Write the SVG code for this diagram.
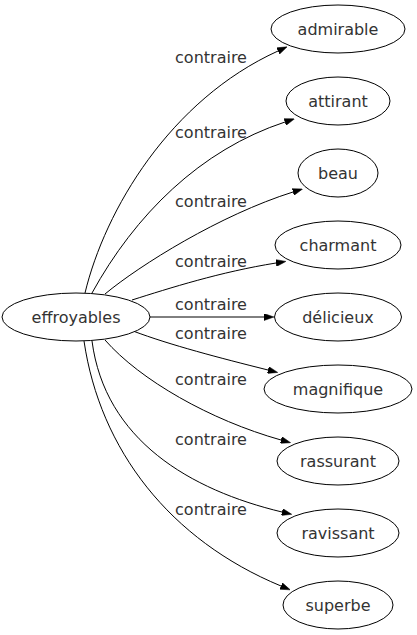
<svg xmlns="http://www.w3.org/2000/svg" width="417" height="635" viewBox="0 0 417 635">
<style>
.n ellipse{fill:#fff;stroke:#000;stroke-width:1}
text{font-family:"DejaVu Sans",sans-serif;font-size:16px;fill:#333;text-anchor:middle}
.e path{fill:none;stroke:#000;stroke-width:1;marker-end:url(#ah)}
</style>
<defs>
<marker id="ah" viewBox="0 0 10 7" refX="0" refY="3.5" markerWidth="10" markerHeight="7" markerUnits="userSpaceOnUse" orient="auto">
<path d="M0,0 L10,3.5 L0,7 z" fill="#000" stroke="#000" stroke-width="0.5"/>
</marker>
</defs>
<g id="edges" class="e">
<path d="M85,293 C105,210 170,100 278,51"/>
<path d="M92,293 C135,215 200,150 285,122"/>
<path d="M105,294 C140,265 220,215 293,192"/>
<path d="M132,300 C170,288 220,272 276,263"/>
<path d="M150,317 L264,317"/>
<path d="M133,331 C170,345 220,358 268,370"/>
<path d="M105,340 C140,380 210,420 281,440"/>
<path d="M92,341 C105,440 190,490 282,512"/>
<path d="M84,341 C100,450 170,540 281,586"/>
</g>
<g id="labels">
<text x="211" y="63">contraire</text>
<text x="211" y="138">contraire</text>
<text x="211" y="207">contraire</text>
<text x="211" y="267">contraire</text>
<text x="211" y="310">contraire</text>
<text x="211" y="339">contraire</text>
<text x="211" y="385">contraire</text>
<text x="211" y="445">contraire</text>
<text x="211" y="515">contraire</text>
</g>
<g id="effroyables" class="n"><ellipse cx="76" cy="317" rx="74" ry="24"/><text x="76" y="323">effroyables</text></g>
<g id="admirable" class="n"><ellipse cx="338" cy="29" rx="67" ry="24"/><text x="338" y="35">admirable</text></g>
<g id="attirant" class="n"><ellipse cx="338" cy="101" rx="52" ry="24"/><text x="338" y="107">attirant</text></g>
<g id="beau" class="n"><ellipse cx="338" cy="173" rx="40" ry="24"/><text x="338" y="179">beau</text></g>
<g id="charmant" class="n"><ellipse cx="338" cy="245" rx="63" ry="24"/><text x="338" y="251">charmant</text></g>
<g id="delicieux" class="n"><ellipse cx="338" cy="317" rx="63.5" ry="24"/><text x="338" y="323">délicieux</text></g>
<g id="magnifique" class="n"><ellipse cx="338" cy="389" rx="74" ry="24"/><text x="338" y="395">magnifique</text></g>
<g id="rassurant" class="n"><ellipse cx="338" cy="461" rx="61" ry="24"/><text x="338" y="467">rassurant</text></g>
<g id="ravissant" class="n"><ellipse cx="338" cy="533" rx="61" ry="24"/><text x="338" y="539">ravissant</text></g>
<g id="superbe" class="n"><ellipse cx="338" cy="605" rx="55" ry="24"/><text x="338" y="611">superbe</text></g>
</svg>
